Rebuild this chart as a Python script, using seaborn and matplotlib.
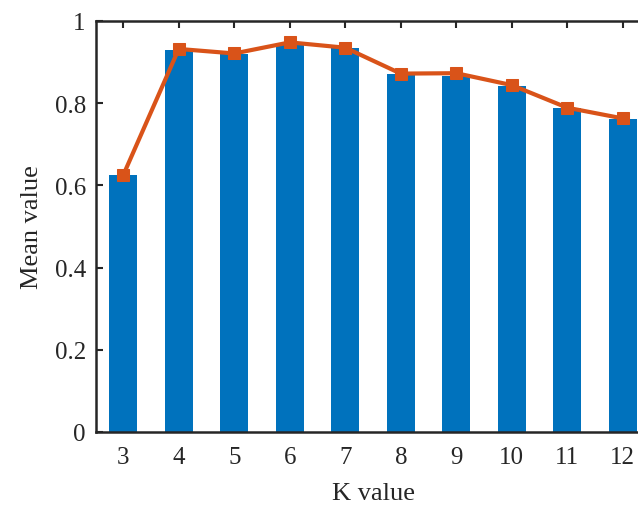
import matplotlib
matplotlib.use("Agg")
import matplotlib.pyplot as plt
import seaborn as sns
import pandas as pd

k_values = [3, 4, 5, 6, 7, 8, 9, 10, 11, 12]
bar_values = [0.625, 0.929, 0.920, 0.944, 0.934, 0.871, 0.866, 0.843, 0.788, 0.762]
line_values = [0.625, 0.932, 0.921, 0.948, 0.935, 0.872, 0.873, 0.844, 0.789, 0.763]
y_ticks = [0, 0.2, 0.4, 0.6, 0.8, 1]
y_tick_labels = ["0", "0.2", "0.4", "0.6", "0.8", "1"]

sns.set_style("white")
plt.rcParams["font.family"] = ["Liberation Serif", "DejaVu Serif"]

df = pd.DataFrame({"K": k_values, "bar": bar_values, "line": line_values})

fig = plt.figure(figsize=(6.38, 5.06), dpi=100)
ax = fig.add_axes([95.5 / 638, (506 - 433) / 506, 555 / 638, 411 / 506])

sns.barplot(data=df, x="K", y="bar", native_scale=True, width=0.5,
            color="#0072BD", saturation=1, edgecolor="none", ax=ax)
sns.lineplot(data=df, x="K", y="line", color="#D95319", linewidth=3,
             marker="s", markersize=9, markeredgecolor="#D95319", ax=ax)

ax.set_xlim(2.5, 12.5)
ax.set_ylim(0, 1)
ax.set_xticks(k_values)
ax.set_xticklabels([str(k) for k in k_values], fontsize=18)
ax.set_yticks(y_ticks)
ax.set_yticklabels(y_tick_labels, fontsize=18)
ax.set_xlabel("K value", fontsize=19, labelpad=10)
ax.set_ylabel("Mean value", fontsize=19, labelpad=8)
ax.tick_params(direction="in", length=5, width=1.5, top=True, right=True,
               bottom=True, left=True, colors="#262626", labelcolor="#262626")
ax.tick_params(axis="x", pad=10)
ax.tick_params(axis="y", pad=7)
for s in ax.spines.values():
    s.set_visible(True)
    s.set_color("#262626")
    s.set_linewidth(1.8)

fig.savefig("out.png", dpi=100)
